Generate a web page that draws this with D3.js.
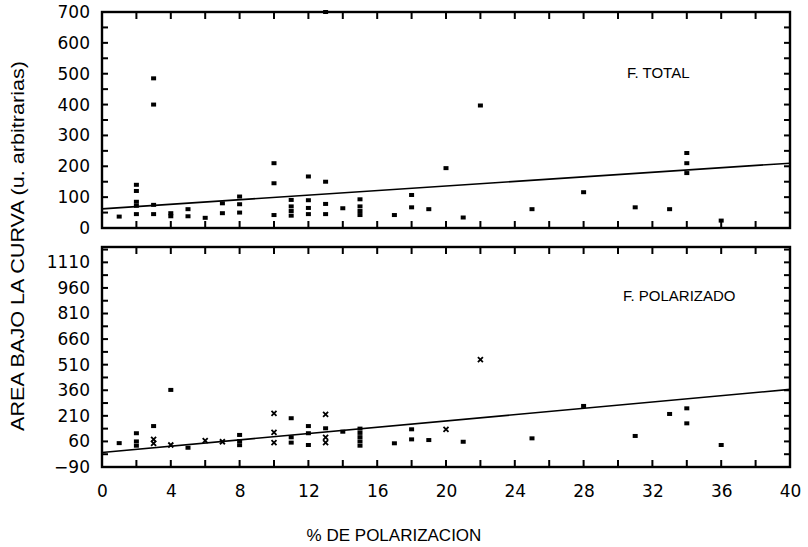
<!DOCTYPE html>
<html>
<head>
<meta charset="utf-8">
<script src="https://cdn.jsdelivr.net/npm/d3@7"></script>
<style>
  body { margin: 0; background: #fff; }
  svg text { font-family: "DejaVu Sans", sans-serif; fill: #000; }
</style>
</head>
<body>
<div id="chart"></div>
<script>
var width = 808;
var height = 547;

// F. TOTAL panel
var totalX = [1, 2, 2, 2, 2, 2, 3, 3, 3, 3, 4, 4, 5, 5, 6, 7, 7, 8, 8, 8,
  10, 10, 10, 11, 11, 11, 11, 12, 12, 12, 12, 13, 13, 13, 13, 14, 15, 15, 15, 15,
  17, 18, 18, 19, 20, 21, 22, 25, 28, 31, 33, 34, 34, 34, 36];
var totalY = [37, 140, 120, 85, 72, 45, 485, 400, 75, 45, 48, 38, 61, 38, 33, 80, 48, 102, 77, 50,
  210, 145, 42, 91, 70, 55, 40, 167, 90, 65, 45, 700, 150, 78, 45, 64, 93, 70, 55, 42,
  42, 107, 67, 61, 194, 34, 397, 61, 116, 67, 61, 243, 210, 178, 24];
var totalFit = [62, 210];  // fitted value at x = 0 and x = 40

// F. POLARIZADO panel
var polX = [1, 2, 2, 2, 3, 3, 3, 4, 4, 5, 6, 7, 8, 8, 8,
  10, 10, 10, 11, 11, 11, 12, 12, 12, 13, 13, 13, 13, 14,
  15, 15, 15, 15, 15, 17, 18, 18, 19, 20, 21, 22, 25, 28, 31, 33, 34, 34, 36];
var polY = [50, 108, 60, 35, 150, 72, 49, 362, 39, 23, 65, 58, 98, 62, 38,
  225, 113, 53, 196, 84, 53, 150, 108, 39, 219, 137, 84, 53, 117,
  135, 110, 85, 60, 35, 49, 131, 72, 68, 131, 58, 540, 78, 268, 92, 221, 254, 166, 39];
var polMark = ["s", "s", "s", "s", "s", "x", "x", "s", "x", "s", "x", "x", "s", "s", "s",
  "x", "x", "x", "s", "s", "s", "s", "s", "s", "x", "s", "x", "x", "s",
  "s", "s", "s", "s", "s", "s", "s", "s", "s", "x", "s", "x", "s", "s", "s", "s", "s", "s", "s"];
var polFit = [-5, 365];

var xTicks = d3.range(0, 41, 2);
var xLabels = d3.range(0, 41, 4);

var left = 102, right = 790;

var svg = d3.select("#chart").append("svg")
  .attr("width", width)
  .attr("height", height);

var x = d3.scaleLinear().domain([0, 40]).range([left, right]);

function panel(top, bottom, yDomain, yTicks, yLabels, xs, ys, marks, fit, label, labelPos, showXLabels) {
  var y = d3.scaleLinear().domain(yDomain).range([bottom, top]);
  var g = svg.append("g");

  var fmtY = function(d) { return d < 0 ? "\u2212" + (-d) : d; };
  if (showXLabels) {
    g.append("g").attr("transform", "translate(0," + bottom + ")")
      .call(d3.axisBottom(x).tickValues(xLabels).tickSize(0).tickPadding(18));
  }
  g.append("g").attr("transform", "translate(" + left + ",0)")
    .call(d3.axisLeft(y).tickValues(yLabels).tickSize(0).tickPadding(12).tickFormat(fmtY));
  g.selectAll(".domain").remove();
  g.selectAll(".tick line").remove();
  g.selectAll(".tick text").style("font-size", "17px").attr("fill", "#000");

  // small tick marks, as filled rects
  var tk = g.append("g").attr("fill", "#000");
  tk.selectAll(null).data(xTicks).enter().append("rect")
    .attr("x", function(d) { return x(d) - 1; }).attr("y", bottom - 7)
    .attr("width", 2).attr("height", 7);
  tk.selectAll(null).data(xTicks).enter().append("rect")
    .attr("x", function(d) { return x(d) - 1; }).attr("y", top)
    .attr("width", 2).attr("height", 7);
  tk.selectAll(null).data(yTicks).enter().append("rect")
    .attr("x", left).attr("y", function(d) { return y(d) - 1; })
    .attr("width", 6).attr("height", 2);
  tk.selectAll(null).data(yTicks).enter().append("rect")
    .attr("x", right - 6).attr("y", function(d) { return y(d) - 1; })
    .attr("width", 6).attr("height", 2);

  g.append("rect")
    .attr("x", left).attr("y", top)
    .attr("width", right - left).attr("height", bottom - top)
    .attr("fill", "none").attr("stroke", "#000").attr("stroke-width", 2.4);

  g.append("path")
    .datum([[0, fit[0]], [40, fit[1]]])
    .attr("fill", "none").attr("stroke", "#000").attr("stroke-width", 1.6)
    .attr("d", d3.line().x(function(d) { return x(d[0]); }).y(function(d) { return y(d[1]); }));

  var pts = xs.map(function(v, i) { return { x: v, y: ys[i], m: marks ? marks[i] : "s" }; });

  g.selectAll("rect.pt")
    .data(pts.filter(function(d) { return d.m === "s"; }))
    .enter().append("rect")
    .attr("class", "pt")
    .attr("x", function(d) { return x(d.x) - 2.5; })
    .attr("y", function(d) { return y(d.y) - 2; })
    .attr("width", 5).attr("height", 4)
    .attr("fill", "#000");

  g.selectAll("path.pt")
    .data(pts.filter(function(d) { return d.m === "x"; }))
    .enter().append("path")
    .attr("class", "pt")
    .attr("d", function(d) {
      var cx = x(d.x), cy = y(d.y), r = 2.5;
      return "M" + (cx - r) + "," + (cy - r) + "L" + (cx + r) + "," + (cy + r) +
        "M" + (cx - r) + "," + (cy + r) + "L" + (cx + r) + "," + (cy - r);
    })
    .attr("stroke", "#000").attr("stroke-width", 1.8);

  g.append("text")
    .attr("x", labelPos[0]).attr("y", labelPos[1])
    .style("font-family", "'Liberation Sans Narrow', 'Liberation Sans', sans-serif")
    .style("font-size", "15px")
    .text(label);
}

panel(12, 228, [0, 700], d3.range(0, 701, 50), d3.range(0, 701, 100),
  totalX, totalY, null, totalFit, "F. TOTAL", [627, 78], false);

panel(247, 467, [-90, 1200], d3.range(-90, 1200, 75), d3.range(-90, 1111, 150),
  polX, polY, polMark, polFit, "F. POLARIZADO", [623, 301], true);

svg.append("text")
  .attr("transform", "translate(24,246) rotate(-90)")
  .attr("text-anchor", "middle")
  .attr("textLength", 370)
  .attr("lengthAdjust", "spacingAndGlyphs")
  .style("font-family", "'Liberation Sans Narrow', 'Liberation Sans', sans-serif")
  .style("font-size", "18px")
  .text("AREA BAJO LA CURVA (u. arbitrarias)");

svg.append("text")
  .attr("x", 394).attr("y", 541)
  .attr("text-anchor", "middle")
  .style("font-family", "'Liberation Sans Narrow', 'Liberation Sans', sans-serif")
  .style("font-size", "17px")
  .text("% DE POLARIZACION");
</script>
</body>
</html>
